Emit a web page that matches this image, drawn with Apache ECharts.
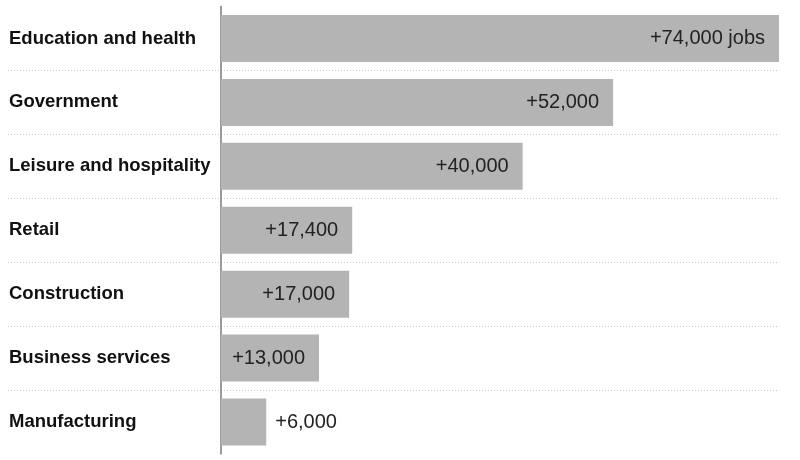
<!DOCTYPE html>
<html>
<head>
<meta charset="utf-8">
<script src="https://cdn.jsdelivr.net/npm/echarts@6/dist/echarts.min.js"></script>
<style>
  html, body { margin: 0; padding: 0; background: #fff; }
  #chart { width: 800px; height: 460px; }
</style>
</head>
<body>
<div id="chart"></div>
<script>
  // job gains by sector
  const categories = ['Education and health', 'Government', 'Leisure and hospitality', 'Retail', 'Construction', 'Business services', 'Manufacturing']
  const jobs = [74000, 52000, 40000, 17400, 17000, 13000, 6000]
  const suffixes = [' jobs', '', '', '', '', '', '']
  const outsideLabel = [false, false, false, false, false, false, true]

  const xMax = 74000
  // push zero to the right so the category names fit left of the axis
  const xMin = -xMax * (213 / 558)

  const chart = echarts.init(document.getElementById('chart'))

  const seriesData = jobs.map(function(v, i) {
    return {
      value: v,
      label: outsideLabel[i]
        ? { position: 'right', distance: 9 }
        : { position: 'insideRight', distance: 14 }
    }
  })

  chart.setOption({
    animation: false,
    grid: { left: 8, right: 21, top: 6.5, bottom: 6, containLabel: false, outerBoundsMode: 'none' },
    xAxis: {
      type: 'value',
      min: xMin,
      max: xMax,
      axisLine: { show: false },
      axisTick: { show: false },
      axisLabel: { show: false },
      splitLine: { show: false }
    },
    yAxis: {
      type: 'category',
      inverse: true,
      data: categories,
      axisLine: { show: true, onZero: true, lineStyle: { color: '#7a7a7a', width: 1.5 } },
      axisTick: { show: false },
      axisLabel: {
        align: 'left',
        margin: -1,
        color: '#111',
        fontFamily: 'Liberation Sans',
        fontWeight: 'bold',
        fontSize: 18.5
      },
      splitLine: {
        show: true,
        showMinLine: false,
        showMaxLine: false,
        lineStyle: { color: '#c8c8c8', type: [1, 2], width: 1 }
      }
    },
    series: [{
      type: 'bar',
      barWidth: 47,
      itemStyle: { color: '#b4b4b4' },
      label: {
        show: true,
        color: '#222',
        fontFamily: 'Liberation Sans',
        fontSize: 20,
        formatter: function(p) {
          return '+' + p.value.toLocaleString('en-US') + suffixes[p.dataIndex]
        }
      },
      data: seriesData
    }]
  })
</script>
</body>
</html>
